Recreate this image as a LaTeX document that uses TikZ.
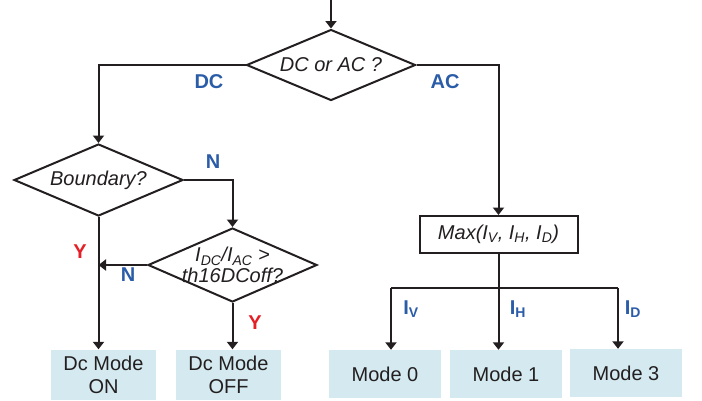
\documentclass[tikz,border=0pt]{standalone}
\usepackage{fontspec}
\setmainfont{Liberation Sans}
\usetikzlibrary{shapes.geometric,arrows.meta}
\definecolor{ink}{HTML}{231F20}
\definecolor{lblue}{HTML}{2B5CA8}
\definecolor{lred}{HTML}{E41F26}
\definecolor{boxfill}{HTML}{D4EAF0}
\begin{document}
\begin{tikzpicture}[x=1pt,y=-1pt,
  every node/.style={font=\fontsize{20}{23}\selectfont, text=ink},
  line/.style={draw=ink, line width=2pt},
  arr/.style={line, -{Triangle[length=7.5pt,width=11pt]}},
  dia/.style={shape=diamond, draw=ink, line width=2pt, inner sep=0pt, fill=white},
  modebox/.style={fill=boxfill, inner sep=0pt, align=center},
  bl/.style={text=lblue, font=\fontsize{20}{23}\selectfont\bfseries},
  rd/.style={text=lred, font=\fontsize{20}{23}\selectfont\bfseries}]
\useasboundingbox (0,0) rectangle (702,400);
% decisions
\node[dia, minimum width=169pt, minimum height=71pt,
  label={center:\textit{DC or AC ?}}] (top) at (331,65) {};
\node[dia, minimum width=169pt, minimum height=72pt,
  label={center:\textit{Boundary?}}] (bnd) at (98.5,180) {};
\node[dia, minimum width=169pt, minimum height=74pt,
  label={[align=center, font=\fontsize{20}{20.5}\selectfont]center:\textit{I\textsubscript{DC}/I\textsubscript{AC} >}\\\textit{th16DCoff?}}] (th) at (232.5,265) {};
\node[draw=ink, line width=2pt, fill=white, minimum width=158pt, minimum height=37pt, inner sep=0pt]
  (max) at (498.5,234.5) {\textit{Max(I\textsubscript{V}, I\textsubscript{H}, I\textsubscript{D})}};
% result boxes
\node[modebox, minimum width=105pt, minimum height=50pt, font=\fontsize{20}{23}\selectfont] (on) at (103.5,374.5) {Dc Mode\\ON};
\node[modebox, minimum width=105pt, minimum height=50pt, font=\fontsize{20}{23}\selectfont] (off) at (228.5,374.5) {Dc Mode\\OFF};
\node[modebox, minimum width=112pt, minimum height=48pt] (m0) at (385,374) {Mode 0};
\node[modebox, minimum width=112pt, minimum height=48pt] (m1) at (506,374) {Mode 1};
\node[modebox, minimum width=112pt, minimum height=48pt] (m3) at (626,373) {Mode 3};
% connectors
\coordinate (start) at (331,0);
\draw[arr] (start) -- (top.north);
\draw[arr] (top.west) -| (bnd.north);
\draw[arr] (top.east) -| (max.north);
\draw[arr] (bnd.east) -| (th.north);
\draw[arr] (bnd.south) -- (bnd.south |- on.north);
\draw[arr] (th.west) -- (th.west -| bnd.south);
\draw[arr] (th.south) -- (th.south |- off.north);
\coordinate (b0) at (391,288);
\coordinate (b3) at (618,288);
\draw[line] (b0) -- (b3);
\draw[arr] (max.south) -- (max.south |- m1.north);
\draw[arr] (b0) -- (b0 |- m0.north);
\draw[arr] (b3) -- (b3 |- m3.north);
% labels
\node[bl] (lDC) at (209,82) {DC};
\node[bl] (lAC) at (445,82) {AC};
\node[bl] (lN1) at (213,162) {N};
\node[rd] (lY1) at (80,252) {Y};
\node[bl] (lN2) at (128,275) {N};
\node[rd] (lY2) at (255,323) {Y};
\node[bl] (lIV) at (411,309) {I\textsubscript{V}};
\node[bl] (lIH) at (518,309) {I\textsubscript{H}};
\node[bl] (lID) at (633,309) {I\textsubscript{D}};
\end{tikzpicture}
\end{document}
